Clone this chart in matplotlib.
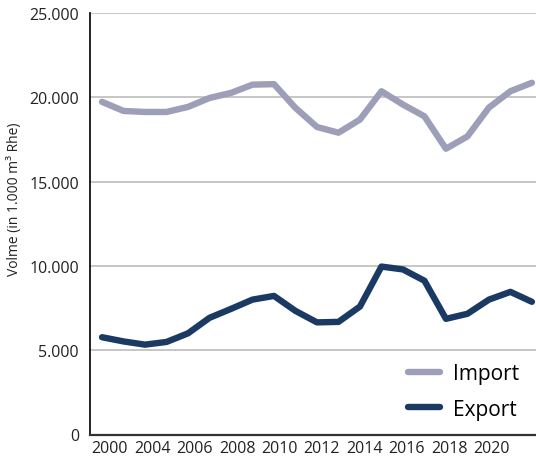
import numpy as np
import matplotlib
matplotlib.use('Agg')
import matplotlib.pyplot as plt

plt.rcParams['font.family'] = ['Open Sans', 'DejaVu Sans']

# Daten
years = list(range(2000, 2021))
imp = [19730, 19190, 19130, 19130, 19430, 19960, 20260, 20750, 20780, 19370, 18240,
       17900, 18680, 20360, 19570, 18870, 16950, 17680, 19390, 20360, 20860]
exp = [5770, 5520, 5330, 5490, 6000, 6920, 7450, 8000, 8220, 7330, 6650,
       6680, 7590, 9960, 9790, 9120, 6860, 7160, 8000, 8460, 7870]
tick_labels = ['2000', '2004', '2006', '2008', '2010', '2012', '2014', '2016', '2018', '2020']
y_ticks = [0, 5000, 10000, 15000, 20000, 25000]
y_tick_labels = ['0', '5.000', '10.000', '15.000', '20.000', '25.000']

fig = plt.figure(figsize=(5.36, 4.60), dpi=100)
ax = fig.add_axes([90/536, 1 - 435.5/460, 446/536, (435.5 - 14)/460])

ax.plot(years, imp, color='#9d9fb8', lw=4.6, solid_capstyle='round', label='Import')
ax.plot(years, exp, color='#1b3a63', lw=4.6, solid_capstyle='round', label='Export')

ax.set_ylim(0, 25000)
ax.set_xlim(years[0] - 0.56, years[-1] + 0.19)
ax.set_yticks(y_ticks)
ax.set_yticklabels(y_tick_labels)
# Beschriftung der x-Achse (gleichmäßig verteilt wie im Original)
ax.set_xticks(np.linspace(years[0] + 0.37, years[-1] - 1.88, len(tick_labels)))
ax.set_xticklabels(tick_labels)
ax.tick_params(axis='both', length=0, labelsize=11.5, colors='#222222', pad=8)
ax.tick_params(axis='x', pad=4)

ax.grid(axis='y', color='#bcbcbc', lw=1.2)
ax.set_axisbelow(True)
for s in ['top', 'right']:
  ax.spines[s].set_visible(False)
ax.spines['left'].set_color('#111111')
ax.spines['bottom'].set_color('#333333')
ax.spines['left'].set_linewidth(1.3)
ax.spines['bottom'].set_linewidth(1.6)

ax.set_ylabel('Volme (in 1.000 m³ Rhe)', fontsize=10, color='#222222')
ax.yaxis.set_label_coords(-68/446, (435.5 - 199)/421.5)

ax.legend(loc='upper left', bbox_to_anchor=(408/536, 1 - 364/460), bbox_transform=fig.transFigure,
          frameon=False, fontsize=15, handlelength=1.55, handletextpad=0.6, labelspacing=0.7,
          borderpad=0, borderaxespad=0)

fig.savefig('out.png', dpi=100)
